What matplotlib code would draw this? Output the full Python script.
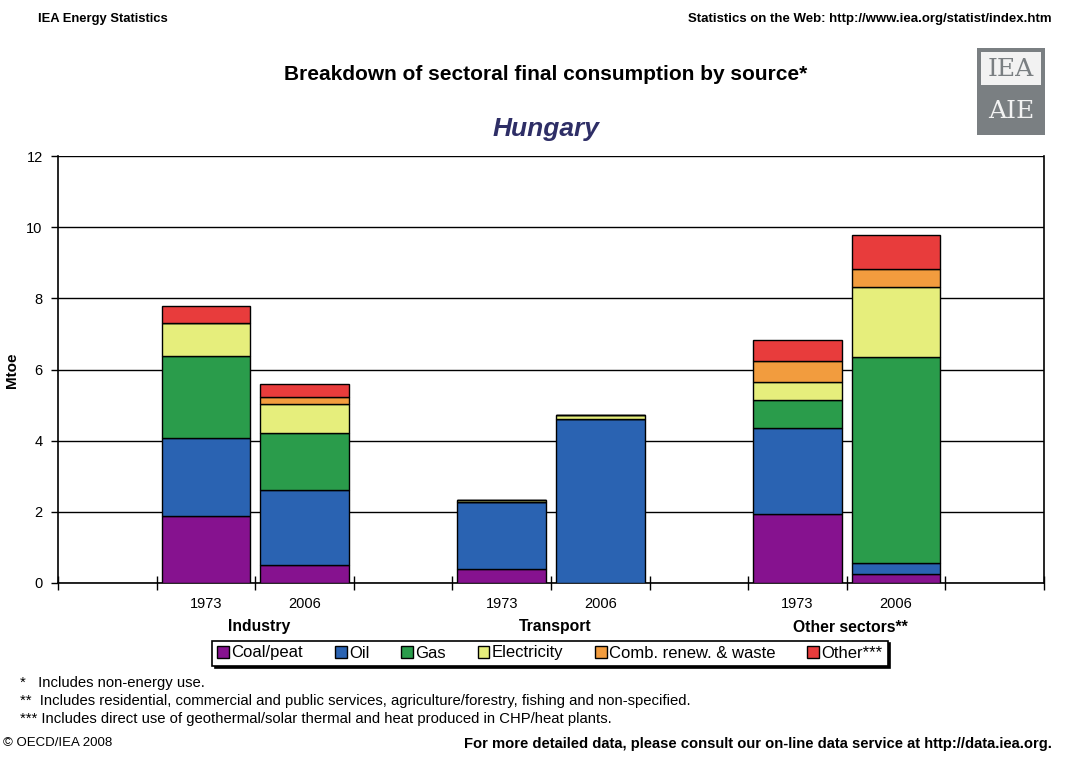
import numpy as np
import matplotlib
matplotlib.use("Agg")
import matplotlib.pyplot as plt
from matplotlib.patches import Patch, Rectangle

plt.rcParams['font.family'] = ['Liberation Sans', 'DejaVu Sans']

# data (Mtoe)
sectors = ["Industry", "Transport", "Other sectors**"]
years = ["1973", "2006", "1973", "2006", "1973", "2006"]
sources = ["Coal/peat", "Oil", "Gas", "Electricity", "Comb. renew. & waste", "Other***"]
coal = [1.87, 0.50, 0.38, 0.00, 1.93, 0.24]
oil = [2.21, 2.11, 1.89, 4.60, 2.42, 0.31]
gas = [2.29, 1.60, 0.00, 0.00, 0.78, 5.80]
electricity = [0.94, 0.81, 0.06, 0.12, 0.51, 1.96]
comb_renew = [0.00, 0.20, 0.00, 0.00, 0.59, 0.51]
other = [0.47, 0.36, 0.00, 0.00, 0.59, 0.95]
colors = ["#86128F", "#2A63B2", "#2A9C4B", "#E6EE7C", "#F29C3E", "#E83C3C"]

series = [coal, oil, gas, electricity, comb_renew, other]

# 10 category slots, blanks between the sector groups
slots = np.array([1, 2, 4, 5, 7, 8])
centers = slots + 0.5

W, H = 1071, 762
fig = plt.figure(figsize=(W / 100, H / 100), dpi=100)
ax_l, ax_r, ax_b, ax_t = 58, 1044, 583, 156
ax = fig.add_axes([ax_l / W, (H - ax_b) / H, (ax_r - ax_l) / W, (ax_b - ax_t) / H])


def ay(py):
    # pixel row -> axes fraction
    return (ax_b - py) / (ax_b - ax_t)


bottom = np.zeros(len(slots))
for vals, col in zip(series, colors):
    vals = np.array(vals)
    ax.bar(centers, vals, width=0.9, bottom=bottom, color=col,
           edgecolor="black", linewidth=1.0, zorder=3)
    bottom += vals

ax.set_xlim(0, 10)
ax.set_ylim(0, 12)
ax.set_yticks(range(0, 13, 2))
ax.yaxis.grid(True, color="black", linewidth=1.0, zorder=0)
ax.set_axisbelow(True)
ax.tick_params(axis="y", direction="out", length=5, width=1, labelsize=10.5, pad=6)
ax.set_xticks(range(0, 11))
ax.set_xticklabels([])
ax.tick_params(axis="x", direction="inout", length=10, width=1)
ax.spines["top"].set_visible(False)
for s in ["left", "right", "bottom"]:
    ax.spines[s].set_linewidth(1.2)

xt = ax.get_xaxis_transform()
for c, yr in zip(centers, years):
    ax.text(c, ay(604), yr, transform=xt, ha="center", va="center", fontsize=10.5)
for i, sec in enumerate(sectors):
    c = centers[2 * i:2 * i + 2].mean()
    ax.text(c + 0.04, ay(627), sec, transform=xt, ha="center", va="center",
            fontsize=11.3, fontweight="bold")

fig.text(12 / W, 1 - 370 / H, "Mtoe", fontsize=11, fontweight="bold",
         rotation=90, ha="center", va="center")

# legend
handles = [Patch(facecolor=c, edgecolor="black", linewidth=1) for c in colors]
leg = fig.legend(handles, sources, ncol=6, loc="center",
                 bbox_to_anchor=(550 / W, 1 - 653 / H), fontsize=12,
                 handlelength=0.7, handleheight=0.7, handletextpad=0.15,
                 columnspacing=1.9, borderpad=0.3, frameon=True, fancybox=False,
                 shadow={"color": "black", "alpha": 1})
leg.get_frame().set_edgecolor("black")
leg.get_frame().set_linewidth(1.2)

# header / titles
fig.text(38 / W, 1 - 19 / H, "IEA Energy Statistics", fontsize=9.4, fontweight="bold",
         ha="left", va="center")
fig.text(1052 / W, 1 - 19 / H, "Statistics on the Web: http://www.iea.org/statist/index.htm",
         fontsize=9.5, fontweight="bold", ha="right", va="center")
fig.text(546 / W, 1 - 74 / H, "Breakdown of sectoral final consumption by source*",
         fontsize=15, fontweight="bold", ha="center", va="center")
fig.text(546 / W, 1 - 129 / H, "Hungary", fontsize=19, fontweight="bold",
         fontstyle="italic", color="#2E2E66", ha="center", va="center")

# logo block
fig.patches.append(Rectangle((977 / W, 1 - 135 / H), 68 / W, 87 / H,
                             transform=fig.transFigure, facecolor="#7A7F82",
                             edgecolor="none"))
fig.patches.append(Rectangle((981 / W, 1 - 85 / H), 60 / W, 33 / H,
                             transform=fig.transFigure, facecolor="#F2F2F2",
                             edgecolor="none"))
fig.text(1011 / W, 1 - 69 / H, "IEA", fontsize=18, color="#7A7F82",
         family="DejaVu Serif", ha="center", va="center")
fig.text(1011 / W, 1 - 112 / H, "AIE", fontsize=18, color="#F2F2F2",
         family="DejaVu Serif", ha="center", va="center")

# footnotes
notes = ["*   Includes non-energy use.",
         "**  Includes residential, commercial and public services, agriculture/forestry, fishing and non-specified.",
         "*** Includes direct use of geothermal/solar thermal and heat produced in CHP/heat plants."]
for yy, t in zip([683, 701, 719], notes):
    fig.text(20 / W, 1 - yy / H, t, fontsize=10.7, ha="left", va="center")
fig.text(3 / W, 1 - 743 / H, "\u00a9 OECD/IEA 2008", fontsize=9.5, ha="left", va="center")
fig.text(1052 / W, 1 - 744 / H,
         "For more detailed data, please consult our on-line data service at http://data.iea.org.",
         fontsize=10.6, fontweight="bold", ha="right", va="center")

fig.savefig("out.png", dpi=100)
